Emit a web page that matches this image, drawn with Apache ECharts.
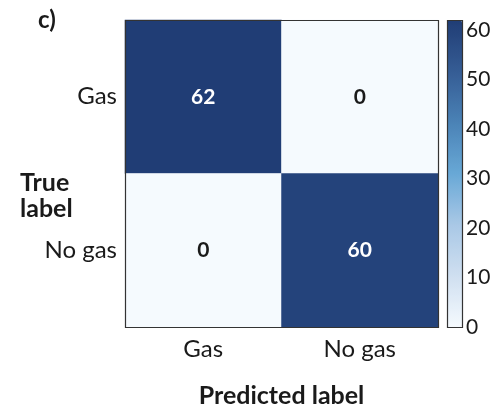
<!DOCTYPE html>
<html>
<head>
<meta charset="utf-8">
<script src="https://cdn.jsdelivr.net/npm/echarts@6/dist/echarts.min.js"></script>
<style>
  html, body { margin: 0; padding: 0; background: #fff; }
  #chart { width: 500px; height: 411px; }
</style>
</head>
<body>
<div id="chart"></div>
<script>
// Confusion matrix: rows = true label, columns = predicted label
const predictedLabels = ['Gas', 'No gas'];
const trueLabels = ['Gas', 'No gas'];
const counts = [
  [62, 0],   // true Gas
  [0, 60]    // true No gas
];
const colorbarMin = 0;
const colorbarMax = 62;
const colorbarTicks = [0, 10, 20, 30, 40, 50, 60];

const FONT = 'Lato';
const INK = '#1a1a1a';

const cells = [];
trueLabels.forEach((t, r) => {
  predictedLabels.forEach((p, c) => {
    cells.push([c, r, counts[r][c]]);
  });
});

const GRID = { left: 125, top: 20, width: 313, height: 307 };
const CBAR = { left: 447, top: 20, width: 15, height: 307 };

const chart = echarts.init(document.getElementById('chart'), null, { renderer: 'canvas' });

chart.setOption({
  animation: false,
  textStyle: { fontFamily: FONT, color: INK },
  grid: [
    { left: GRID.left, top: GRID.top, width: GRID.width, height: GRID.height },
    { left: CBAR.left, top: CBAR.top, width: CBAR.width, height: CBAR.height }
  ],
  xAxis: [
    {
      type: 'category', gridIndex: 0, data: predictedLabels,
      axisLine: { show: false }, axisTick: { show: false },
      axisLabel: { fontFamily: FONT, fontSize: 24, color: INK, margin: 10 },
      splitLine: { show: false }
    },
    {
      type: 'value', gridIndex: 1, show: false, min: 0, max: 1
    }
  ],
  yAxis: [
    {
      type: 'category', gridIndex: 0, data: trueLabels, inverse: true,
      axisLine: { show: false }, axisTick: { show: false },
      axisLabel: { fontFamily: FONT, fontSize: 24, color: INK, margin: 8 },
      splitLine: { show: false }
    },
    {
      type: 'value', gridIndex: 1, position: 'right',
      min: colorbarMin, max: colorbarMax, interval: 10,
      axisLine: { show: false },
      axisTick: { show: true, length: 5, lineStyle: { color: INK, width: 1 } },
      axisLabel: {
        fontFamily: FONT, fontSize: 21, color: INK, margin: 4,
        formatter: v => (colorbarTicks.indexOf(v) >= 0 ? String(v) : '')
      },
      splitLine: { show: false }
    }
  ],
  visualMap: {
    type: 'continuous',
    seriesIndex: 0,
    min: colorbarMin, max: colorbarMax,
    calculable: false,
    orient: 'vertical',
    left: CBAR.left, top: CBAR.top,
    itemWidth: CBAR.width, itemHeight: CBAR.height,
    padding: 0,
    text: null,
    showLabel: false,
    inRange: {
      color: ['#f5fafe', '#cfdff0', '#a9c8e6', '#68a8d6', '#4a82b6', '#355c94', '#203d75']
    }
  },
  series: [
    {
      type: 'heatmap',
      xAxisIndex: 0, yAxisIndex: 0,
      data: cells,
      label: {
        show: true,
        formatter: p => p.value[2] > colorbarMax / 2 ? '{w|' + p.value[2] + '}' : '{k|' + p.value[2] + '}',
        rich: {
          w: { color: '#ffffff', fontFamily: FONT, fontSize: 21, fontWeight: 'bold' },
          k: { color: INK, fontFamily: FONT, fontSize: 21, fontWeight: 'bold' }
        }
      },
      emphasis: { disabled: true }
    }
  ],
  graphic: [
    // frame around the matrix
    {
      type: 'rect', z: 100,
      shape: { x: GRID.left + 0.5, y: GRID.top + 0.5, width: GRID.width, height: GRID.height },
      style: { fill: 'none', stroke: '#333', lineWidth: 1.2 }
    },
    // frame around the colour bar
    {
      type: 'rect', z: 100,
      shape: { x: CBAR.left + 0.5, y: CBAR.top + 0.5, width: CBAR.width, height: CBAR.height },
      style: { fill: 'none', stroke: '#333', lineWidth: 1.2 }
    },
    {
      type: 'text', z: 100,
      style: { x: 38, y: 8, text: 'c)', fontFamily: FONT, fontSize: 24, fontWeight: 'bold', fill: INK }
    },
    {
      type: 'text', z: 100,
      style: { x: 20, y: 170, text: 'True\nlabel', fontFamily: FONT, fontSize: 25, fontWeight: 'bold', fill: INK, lineHeight: 26 }
    },
    {
      type: 'text', z: 100,
      style: {
        x: GRID.left + GRID.width / 2, y: 383,
        text: 'Predicted label', fontFamily: FONT, fontSize: 25, fontWeight: 'bold', fill: INK,
        textAlign: 'center'
      }
    }
  ]
});
</script>
</body>
</html>
